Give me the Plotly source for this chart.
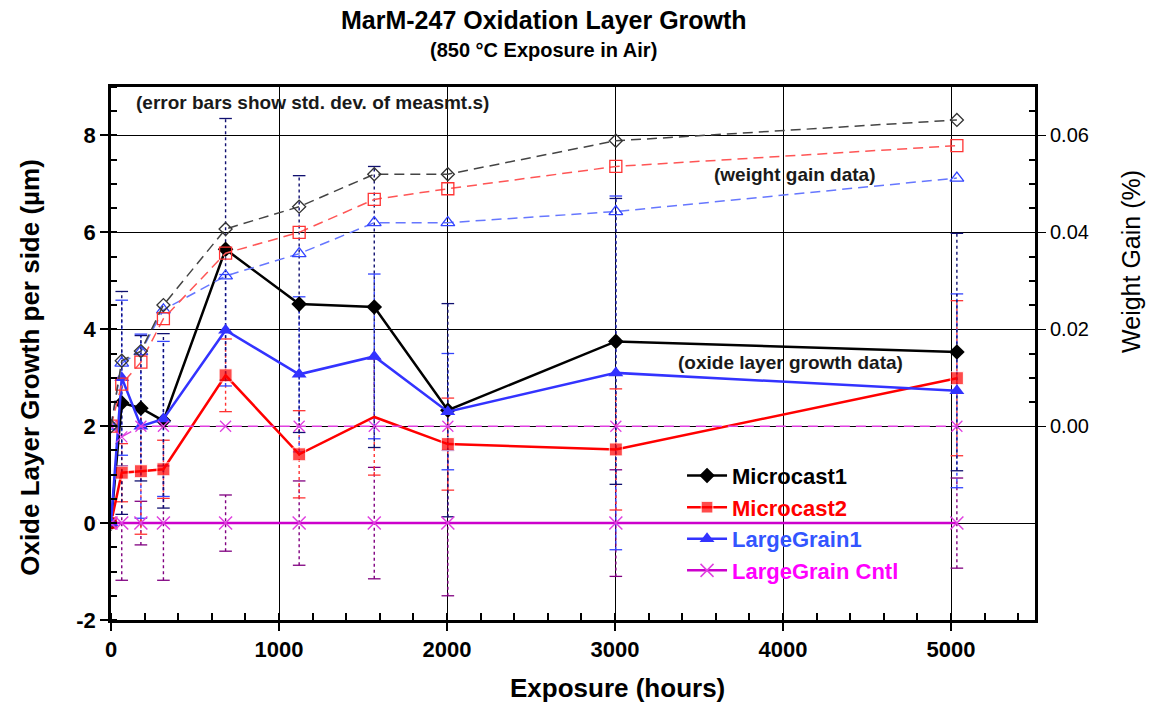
import plotly.graph_objects as go

# ---------------- data ----------------
hours = [0, 64, 178, 312, 682, 1120, 1567, 2005, 3005, 5035]

# oxide layer growth per side (um) - left axis
microcast1 = [0, 2.48, 2.37, 2.11, 5.65, 4.52, 4.46, 2.33, 3.75, 3.53]
microcast2 = [0, 1.04, 1.07, 1.11, 3.05, 1.42, 2.19, 1.63, 1.52, 2.99]
largegrain1 = [0, 3.00, 2.00, 2.15, 3.98, 3.07, 3.44, 2.30, 3.10, 2.73]
largegrain_cntl = [0, 0, 0, 0, 0, 0, 0, 0, 0, 0]

# std. dev. of measurements (um)
err_microcast1 = [0, 2.3, 1.5, 1.8, 2.7, 2.65, 2.9, 2.2, 2.95, 2.45]
err_microcast2 = [0, 0.6, 1.3, 0.6, 0.75, 0.9, 1.2, 0.95, 1.25, 1.6]
err_largegrain1 = [0, 1.6, 1.9, 1.6, 1.15, 1.6, 1.7, 1.2, 3.65, 2.0]
err_cntl = [0, 1.18, 0.45, 1.18, 0.58, 0.87, 1.15, 1.5, 1.1, 0.93]

# weight gain (%) - right axis
wg_microcast1 = [0, 0.0135, 0.0155, 0.0250, 0.0407, 0.0453, 0.0520, 0.0520, 0.0589, 0.0632]
wg_microcast2 = [0, 0.0087, 0.0132, 0.0222, 0.0357, 0.0400, 0.0468, 0.0490, 0.0536, 0.0579]
wg_largegrain1 = [0, 0.0130, 0.0154, 0.0240, 0.0310, 0.0356, 0.0420, 0.0420, 0.0443, 0.0512]
wg_cntl = [0, -0.0022, 0, 0, 0, 0, 0, 0, 0, 0]

left_ticks = [-2, 0, 2, 4, 6, 8]
left_tick_labels = ["-2", "0", "2", "4", "6", "8"]
right_ticks = [0.00, 0.02, 0.04, 0.06]
right_minor_ticks = [0.005, 0.01, 0.015, 0.025, 0.03, 0.035, 0.045, 0.05, 0.055, 0.065]
x_ticks = [0, 1000, 2000, 3000, 4000, 5000]

FONT = "Liberation Sans"
C_BLACK = "#000000"
C_RED = "#FF0000"
C_BLUE = "#3333FF"
C_MAG = "#CC00CC"
DASH = "10px,6px"

fig = go.Figure()


def err_traces(xs, ys, es, color):
    lx, ly, cx, cy = [], [], [], []
    for xv, yv, ev in zip(xs, ys, es):
        if ev <= 0:
            continue
        lx += [xv, xv, None]
        ly += [yv - ev, yv + ev, None]
        cx += [xv, xv]
        cy += [yv - ev, yv + ev]
    fig.add_trace(go.Scatter(x=lx, y=ly, mode="lines", showlegend=False, hoverinfo="skip",
                             line=dict(color=color, width=1.4, dash="dot")))
    fig.add_trace(go.Scatter(x=cx, y=cy, mode="markers", showlegend=False, hoverinfo="skip",
                             marker=dict(symbol="line-ew", size=9,
                                         line=dict(color=color, width=1.3))))


err_traces(hours, largegrain_cntl, err_cntl, "#800080")
err_traces(hours, microcast2, err_microcast2, "#FF3333")
err_traces(hours, largegrain1, err_largegrain1, "#3344FF")
err_traces(hours, microcast1, err_microcast1, "#101070")

# weight gain data (right axis)
fig.add_trace(go.Scatter(x=hours, y=wg_cntl, yaxis="y2", mode="lines+markers", showlegend=False,
                         line=dict(color="#E040E0", width=1.5, dash=DASH),
                         marker=dict(symbol="x-thin", size=11, line=dict(color="#E040E0", width=1.3))))
fig.add_trace(go.Scatter(x=hours, y=wg_largegrain1, yaxis="y2", mode="lines+markers", showlegend=False,
                         line=dict(color="#6677FF", width=1.5, dash=DASH),
                         marker=dict(symbol="triangle-up-open", size=12, color="#3344FF",
                                     line=dict(width=1.3))))
fig.add_trace(go.Scatter(x=hours, y=wg_microcast2, yaxis="y2", mode="lines+markers", showlegend=False,
                         line=dict(color="#FF5555", width=1.5, dash=DASH),
                         marker=dict(symbol="square-open", size=12, color="#FF3333",
                                     line=dict(width=1.3))))
fig.add_trace(go.Scatter(x=hours, y=wg_microcast1, yaxis="y2", mode="lines+markers", showlegend=False,
                         line=dict(color="#444444", width=1.5, dash=DASH),
                         marker=dict(symbol="diamond-open", size=10, color="#333333",
                                     line=dict(width=1.3))))

# oxide layer growth data (left axis)
m2_sizes = [0 if i == 6 else 13 for i in range(len(hours))]
fig.add_trace(go.Scatter(x=hours, y=microcast1, mode="lines+markers",
                         name="<span style='color:#000000'>Microcast1</span>",
                         line=dict(color=C_BLACK, width=2.5),
                         marker=dict(symbol="diamond", size=12, color=C_BLACK)))
fig.add_trace(go.Scatter(x=hours, y=microcast2, mode="lines+markers",
                         name="<span style='color:#FF0000'>Microcast2</span>",
                         line=dict(color=C_RED, width=2.5),
                         marker=dict(symbol="square", size=m2_sizes, color=C_RED)))
fig.add_trace(go.Scatter(x=hours, y=largegrain1, mode="lines+markers",
                         name="<span style='color:#3355FF'>LargeGrain1</span>",
                         line=dict(color=C_BLUE, width=2.5),
                         marker=dict(symbol="triangle-up", size=13, color=C_BLUE)))
fig.add_trace(go.Scatter(x=hours, y=largegrain_cntl, mode="lines+markers",
                         name="<span style='color:#FF00FF'>LargeGrain Cntl</span>",
                         line=dict(color=C_MAG, width=2.5),
                         marker=dict(symbol="x-thin", size=13, line=dict(color="#E040E0", width=1.5))))

fig.update_layout(
    width=1156, height=705,
    margin=dict(l=111, r=121, t=87, b=85),
    paper_bgcolor="white", plot_bgcolor="white",
    font=dict(family=FONT, color="black"),
    showlegend=True,
    legend=dict(x=0.618, y=0.31, xanchor="left", yanchor="top",
                bgcolor="rgba(0,0,0,0)", font=dict(size=22, family=FONT, weight="bold"),
                tracegroupgap=0, itemwidth=40),
    xaxis=dict(range=[0, 5500], tickvals=x_ticks, ticks="outside", ticklen=8, tickwidth=2,
               tickcolor="black",
               showline=True, linecolor="black", linewidth=2.5, mirror=True,
               showgrid=True, gridcolor="black", gridwidth=1.2, zeroline=False,
               tickfont=dict(size=22, family=FONT, weight="bold"),
               minor=dict(dtick=200, ticks="inside", ticklen=7, tickwidth=2, tickcolor="black",
                          showgrid=False)),
    yaxis=dict(range=[-2, 9], tickvals=left_ticks, ticktext=left_tick_labels,
               ticks="outside", ticklen=8, tickwidth=2, tickcolor="black",
               showline=True, linecolor="black", linewidth=2.5, mirror=True,
               showgrid=True, gridcolor="black", gridwidth=1.2, zeroline=False,
               tickfont=dict(size=22, family=FONT, weight="bold"),
               minor=dict(dtick=0.5, ticks="inside", ticklen=6, tickwidth=2, tickcolor="black",
                          showgrid=False)),
    yaxis2=dict(range=[-0.04, 0.07], overlaying="y", side="right", tickvals=right_ticks,
                tickformat=".2f", ticks="outside", ticklen=10, tickwidth=1.2, tickcolor="black",
                showline=False, showgrid=False, zeroline=False,
                tickfont=dict(size=20, family=FONT),
                minor=dict(tickmode="array", tickvals=right_minor_ticks,
                           ticks="inside", ticklen=6, tickwidth=2, tickcolor="black")),
    annotations=[
        dict(text="<b>MarM-247 Oxidation Layer Growth</b>", xref="paper", yref="paper",
             x=0.4686, y=1.125, xanchor="center", yanchor="middle", showarrow=False,
             font=dict(size=25, family=FONT)),
        dict(text="<b>(850 °C Exposure in Air)</b>", xref="paper", yref="paper",
             x=0.4686, y=1.070, xanchor="center", yanchor="middle", showarrow=False,
             font=dict(size=20, family=FONT)),
        dict(text="<b>Oxide Layer Growth per side (µm)</b>", xref="paper", yref="paper",
             x=-0.0877, y=0.475, xanchor="center", yanchor="middle", textangle=-90,
             showarrow=False, font=dict(size=26, family=FONT)),
        dict(text="Weight Gain (%)", xref="paper", yref="paper",
             x=1.104, y=0.672, xanchor="center", yanchor="middle", textangle=-90,
             showarrow=False, font=dict(size=25, family=FONT)),
        dict(text="<b>Exposure (hours)</b>", xref="paper", yref="paper",
             x=0.548, y=-0.128, xanchor="center", yanchor="middle", showarrow=False,
             font=dict(size=26, family=FONT)),
        dict(text="<b>(error bars show std. dev. of measmt.s)</b>", xref="x", yref="y",
             x=137, y=8.68, xanchor="left", yanchor="middle", showarrow=False,
             font=dict(size=19, family=FONT, color="#1a1a1a")),
        dict(text="<b>(weight gain data)</b>", xref="x", yref="y",
             x=4071, y=7.19, xanchor="center", yanchor="middle", showarrow=False,
             font=dict(size=19, family=FONT, color="#1a1a1a")),
        dict(text="<b>(oxide layer growth data)</b>", xref="x", yref="y",
             x=4042, y=3.32, xanchor="center", yanchor="middle", showarrow=False,
             font=dict(size=19, family=FONT, color="#1a1a1a")),
    ],
)

fig.write_html("out.html")
